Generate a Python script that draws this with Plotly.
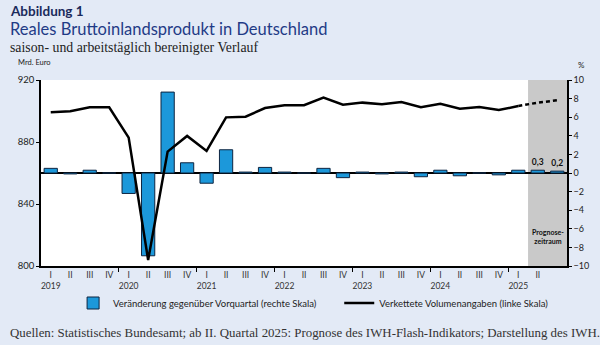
import plotly.graph_objects as go

# ---------------- data ----------------
years = ["2019", "2020", "2021", "2022", "2023", "2024", "2025"]
quarter_labels = (["I", "II", "III", "IV"] * 6) + ["I", "II", ""]
# quarter-on-quarter change in % (right scale)
change_pct = [0.5, -0.1, 0.3, 0.0, -2.2, -8.9, 8.7, 1.1, -1.1, 2.5, 0.1, 0.6,
              0.1, 0.0, 0.5, -0.5, 0.1, -0.1, 0.1, -0.4, 0.3, -0.3, 0.0, -0.2,
              0.3, 0.3, 0.2]
# chained volumes, bn euro (left scale)
volume = [899.2, 899.8, 902.4, 902.4, 882.8, 803.9, 873.8, 883.9, 874.2, 895.9,
          896.3, 901.9, 903.7, 903.7, 908.6, 904.1, 905.4, 904.3, 905.8, 902.4,
          904.7, 901.5, 902.6, 900.6, 903.2, 905.4, 906.9]
forecast_start = 25  # index of first forecast quarter (II/2025)
left_ticks = [800, 840, 880, 920]
right_ticks = list(range(-10, 11, 2))

# ---------------- derived ----------------
n = len(change_pct)
xs = list(range(n))
ticktext = []
for i, q in enumerate(quarter_labels):
    if i % 4 == 0:
        ticktext.append(f"{q}<br>{years[i // 4]}")
    else:
        ticktext.append(q)
bar_text = [f"{v:.1f}".replace(".", ",") if i >= forecast_start else ""
            for i, v in enumerate(change_pct)]
year_bounds = [i - 0.5 for i in range(4, n, 4)]

BG = "#e3eaf6"
NAVY = "#1f3b86"
SANS = "Lato, 'Noto Sans', sans-serif"
SERIF = "'Liberation Serif', serif"

fig = go.Figure()

fig.add_vrect(x0=forecast_start - 0.5, x1=n - 0.5, fillcolor="#c9c9c9",
              line_width=0, layer="below")

fig.add_trace(go.Bar(
    x=xs, y=change_pct, yaxis="y", legend="legend",
    name="Veränderung gegenüber Vorquartal (rechte Skala)",
    marker=dict(color="#1c98da", line=dict(color="#0d2440", width=1)),
    width=0.68,
    text=bar_text, textposition="outside", cliponaxis=False,
    textfont=dict(family=SANS, size=8.5, color="#111"),
    texttemplate="<b>%{text}</b>",
))

solid_x = xs[:forecast_start]
fig.add_trace(go.Scatter(
    x=solid_x, y=volume[:forecast_start], yaxis="y2", mode="lines",
    legend="legend2",
    name="Verkettete Volumenangaben (linke Skala)",
    line=dict(color="black", width=2.5),
))
fig.add_trace(go.Scatter(
    x=xs[forecast_start - 1:], y=volume[forecast_start - 1:], yaxis="y2",
    mode="lines", showlegend=False,
    line=dict(color="black", width=2.5, dash="4px,3px"),
))

legend_common = dict(orientation="h", xanchor="left", y=-0.199, yanchor="middle",
                     bgcolor="rgba(0,0,0,0)", font=dict(size=9.5, color="#222"),
                     itemwidth=30)

fig.update_layout(
    width=600, height=345, autosize=False,
    margin=dict(l=41, r=33, t=80, b=79),
    paper_bgcolor=BG, plot_bgcolor="white",
    font=dict(family=SANS, size=8.5, color="#222"),
    bargap=0.3,
    xaxis=dict(
        range=[-0.5, n - 0.5], tickmode="array", tickvals=xs, ticktext=ticktext,
        ticks="", showgrid=False, zeroline=False,
        showline=True, linecolor="black", linewidth=1.5,
        tickfont=dict(size=8.5, color="#333"),
        minor=dict(tickmode="array", tickvals=year_bounds, ticks="outside",
                   ticklen=4, tickwidth=1.2, tickcolor="black", showgrid=False),
    ),
    yaxis=dict(
        side="right", range=[-10, 10], tickvals=right_ticks,
        showgrid=False, zeroline=True, zerolinecolor="black", zerolinewidth=1.5,
        showline=True, linecolor="black", linewidth=1.5,
        ticks="outside", ticklen=3, tickwidth=1.2, tickcolor="black",
        tickfont=dict(size=9, color="#222"),
    ),
    yaxis2=dict(
        side="left", overlaying="y", range=[800, 920], tickvals=left_ticks,
        showgrid=False, zeroline=False,
        showline=True, linecolor="black", linewidth=1.5,
        ticks="outside", ticklen=3, tickwidth=1.2, tickcolor="black",
        tickfont=dict(size=9.5, color="#222"),
    ),
    legend=dict(x=0.061, **legend_common),
    legend2=dict(x=0.567, **legend_common),
)

ann = [
    dict(text="<b>Abbildung 1</b>", x=-0.0633, y=1.371, size=13.5, color="#1a2a5c", family=SANS),
    dict(text="Reales Bruttoinlandsprodukt in Deutschland", x=-0.0633, y=1.272, size=16.5, color=NAVY, family=SANS),
    dict(text="saison- und arbeitstäglich bereinigter Verlauf", x=-0.0633, y=1.177, size=13.8, color="#222", family=SERIF),
    dict(text="Mrd. Euro", x=-0.048, y=1.093, size=7.5, color="#222", family=SANS),
    dict(text="%", x=1.017, y=1.078, size=8, color="#222", family=SANS),
    dict(text="Quellen: Statistisches Bundesamt; ab II. Quartal 2025: Prognose des IWH-Flash-Indikators; Darstellung des IWH.",
         x=-0.0633, y=-0.36, size=12.9, color="#333", family=SERIF),
]
for a in ann:
    fig.add_annotation(text=a["text"], xref="paper", yref="paper", x=a["x"], y=a["y"],
                       xanchor="left", yanchor="middle", showarrow=False,
                       font=dict(size=a["size"], color=a["color"], family=a["family"]))

fig.add_annotation(text="<b>Prognose-<br>zeitraum</b>", xref="x", yref="paper",
                   x=(forecast_start - 0.5 + n - 0.5) / 2, y=0.158, showarrow=False,
                   xanchor="center", yanchor="middle",
                   font=dict(size=7, color="#111", family=SANS))

fig.write_html("out.html")
